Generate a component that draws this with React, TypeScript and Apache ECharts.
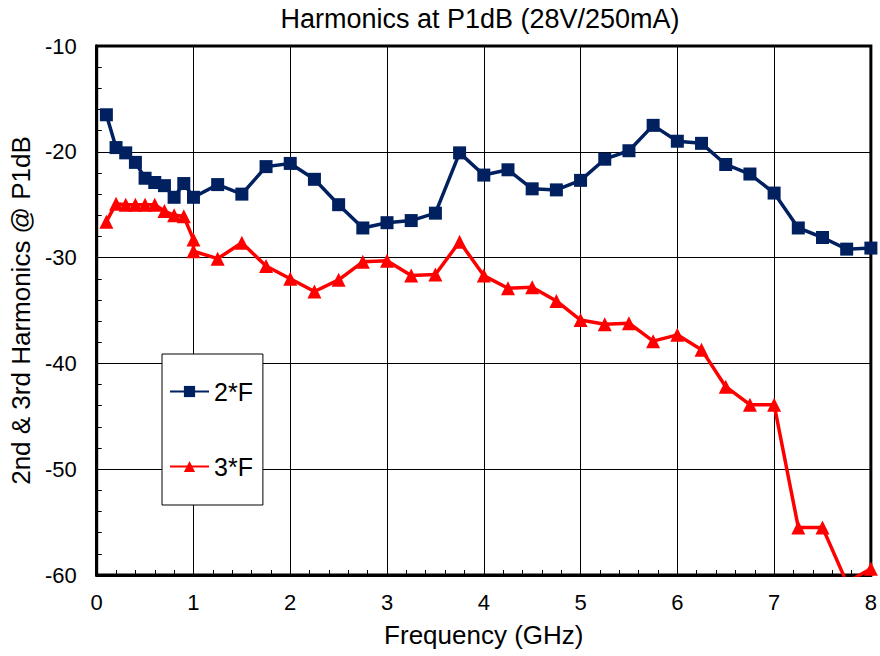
import React, { useEffect, useRef } from "react";
import * as echarts from "echarts";

const FONT = "'Liberation Sans', Arial, sans-serif";

const title = "Harmonics at P1dB (28V/250mA)";
const xName = "Frequency (GHz)";
const yName = "2nd & 3rd Harmonics @ P1dB";
const seriesNames = ["2*F", "3*F"];

const freq2F = [0.1, 0.2, 0.3, 0.4, 0.5, 0.6, 0.7, 0.8, 0.9, 1.0, 1.25, 1.5, 1.75, 2.0, 2.25, 2.5, 2.75, 3.0, 3.25, 3.5, 3.75, 4.0, 4.25, 4.5, 4.75, 5.0, 5.25, 5.5, 5.75, 6.0, 6.25, 6.5, 6.75, 7.0, 7.25, 7.5, 7.75, 8.0];
const val2F = [-16.5, -19.6, -20.1, -21.0, -22.5, -22.9, -23.2, -24.3, -23.0, -24.3, -23.1, -24.0, -21.4, -21.1, -22.6, -25.0, -27.2, -26.7, -26.5, -25.8, -20.1, -22.2, -21.7, -23.5, -23.6, -22.7, -20.7, -19.9, -17.5, -19.0, -19.2, -21.2, -22.1, -23.9, -27.2, -28.1, -29.2, -29.1];

const freq3F = [0.1, 0.2, 0.3, 0.4, 0.5, 0.6, 0.7, 0.8, 0.9, 1.0, 1.0, 1.25, 1.5, 1.75, 2.0, 2.25, 2.5, 2.75, 3.0, 3.25, 3.5, 3.75, 4.0, 4.25, 4.5, 4.75, 5.0, 5.25, 5.5, 5.75, 6.0, 6.25, 6.5, 6.75, 7.0, 7.25, 7.5, 7.75, 8.0];
const val3F = [-26.6, -24.9, -25.0, -25.0, -25.0, -25.0, -25.6, -26.0, -26.1, -28.3, -29.4, -30.1, -28.6, -30.8, -32.0, -33.2, -32.1, -30.4, -30.3, -31.7, -31.6, -28.5, -31.7, -32.9, -32.8, -34.1, -35.9, -36.3, -36.2, -37.9, -37.3, -38.7, -42.2, -43.9, -43.9, -55.5, -55.5, -60.7, -59.4];

const xMin = 0, xMax = 8, xStep = 1;
const yMin = -60, yMax = -10, yStep = 10;

export default function App() {
  const ref = useRef<HTMLDivElement>(null);
  useEffect(() => {
    if (!ref.current) return;
    const chart = echarts.init(ref.current, undefined, { renderer: "svg" });
    const axisCommon = {
      axisLine: { show: true, lineStyle: { color: "#000", width: 3 } },
      axisTick: { show: true, inside: true, length: 5, lineStyle: { color: "#000", width: 1 } },
      minorTick: { show: true, splitNumber: 5, length: 5, lineStyle: { color: "#000", width: 1 } },
      splitLine: { show: true, lineStyle: { color: "#000", width: 1 } },
      nameTextStyle: { color: "#000", fontSize: 26, fontFamily: FONT },
    };
    chart.setOption({
      animation: false,
      backgroundColor: "#fff",
      textStyle: { fontFamily: FONT },
      grid: { left: 95, top: 46, right: 9, bottom: 81, show: true, borderColor: "#000", borderWidth: 3, backgroundColor: "transparent" },
      graphic: [
        { type: "text", x: 480, y: 5, z: 10, style: { text: title, fontSize: 27, fontFamily: FONT, fill: "#000", textAlign: "center", textVerticalAlign: "top" } },
      ],
      legend: {
        data: seriesNames,
        orient: "vertical",
        left: 162,
        top: 354,
        padding: [25, 10, 26, 7],
        itemGap: 50,
        itemWidth: 39,
        itemHeight: 14,
        backgroundColor: "#fff",
        borderColor: "#000",
        borderWidth: 1,
        textStyle: { color: "#000", fontSize: 25, fontFamily: FONT, lineHeight: 25 },
      },
      xAxis: {
        type: "value",
        min: xMin,
        max: xMax,
        interval: xStep,
        name: xName,
        nameLocation: "middle",
        nameGap: 47,
        axisLabel: { color: "#000", fontSize: 22, fontFamily: FONT, margin: 16 },
        ...axisCommon,
      },
      yAxis: {
        type: "value",
        min: yMin,
        max: yMax,
        interval: yStep,
        name: yName,
        nameLocation: "middle",
        nameGap: 60,
        axisLabel: { color: "#000", fontSize: 22, fontFamily: FONT, margin: 20 },
        ...axisCommon,
      },
      series: [
        {
          name: seriesNames[0],
          type: "line",
          data: freq2F.map((f, i) => [f, val2F[i]]),
          symbol: "rect",
          symbolSize: 13,
          lineStyle: { color: "#002060", width: 3.5 },
          itemStyle: { color: "#002060" },
          clip: true,
        },
        {
          name: seriesNames[1],
          type: "line",
          data: freq3F.map((f, i) => [f, val3F[i]]),
          symbol: "triangle",
          symbolSize: 14,
          lineStyle: { color: "#ff0000", width: 3.5 },
          itemStyle: { color: "#ff0000" },
          clip: true,
        },
      ],
    });
    return () => chart.dispose();
  }, []);
  return <div ref={ref} style={{ position: "fixed", left: 0, top: 0, width: 880, height: 656 }} />;
}
